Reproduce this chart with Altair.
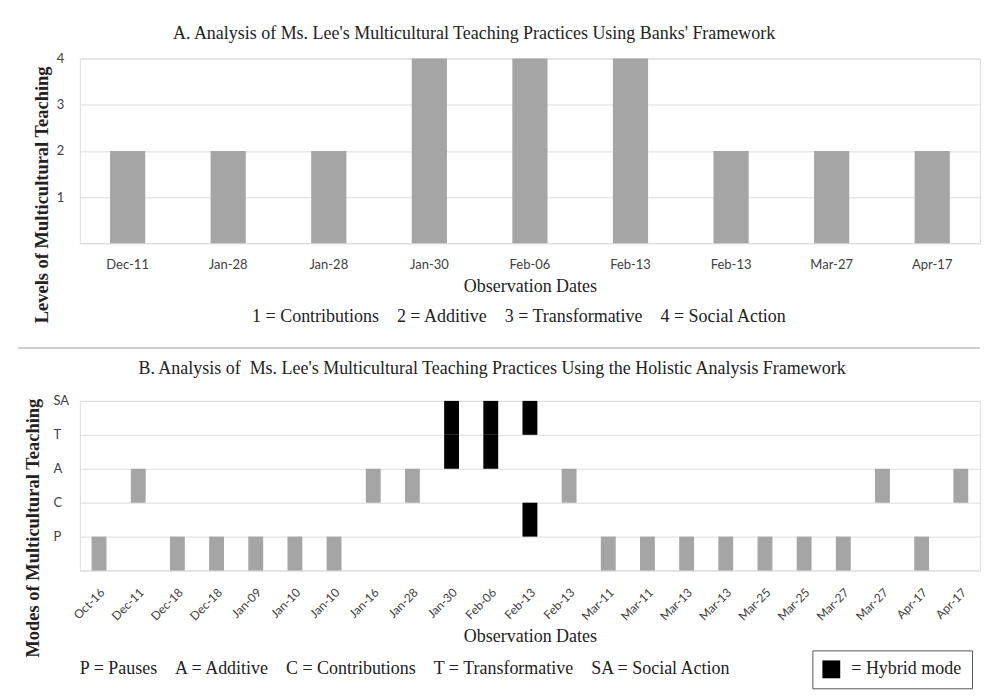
import json
import altair as alt
import pandas as pd

# ---------------- Data ----------------
# Panel A: Banks' framework levels (1 = Contributions ... 4 = Social Action)
a_dates = ["Dec-11", "Jan-28", "Jan-28", "Jan-30", "Feb-06", "Feb-13", "Feb-13", "Mar-27", "Apr-17"]
a_levels = [2, 2, 2, 4, 4, 4, 2, 2, 2]
a_tick_values = [0, 1, 2, 3, 4]

# Panel B: Holistic analysis framework modes per observation
b_dates = ["Oct-16", "Dec-11", "Dec-18", "Dec-18", "Jan-09", "Jan-10", "Jan-10", "Jan-16",
           "Jan-28", "Jan-30", "Feb-06", "Feb-13", "Feb-13", "Mar-11", "Mar-11", "Mar-13",
           "Mar-13", "Mar-25", "Mar-25", "Mar-27", "Mar-27", "Apr-17", "Apr-17"]
b_modes = [["P"], ["A"], ["P"], ["P"], ["P"], ["P"], ["P"], ["A"],
           ["A"], ["T", "SA"], ["T", "SA"], ["C", "SA"], ["A"], ["P"], ["P"], ["P"],
           ["P"], ["P"], ["P"], ["P"], ["A"], ["P"], ["A"]]
mode_order = ["P", "C", "A", "T", "SA"]   # levels 1..5
b_tick_labels = [""] + mode_order

title_a = "A. Analysis of Ms. Lee's Multicultural Teaching Practices Using Banks' Framework"
title_b = "B. Analysis of \u00a0Ms. Lee's Multicultural Teaching Practices Using the Holistic Analysis Framework"
gap = "\u00a0\u00a0\u00a0\u00a0"
key_a = gap.join(["1 = Contributions", "2 = Additive", "3 = Transformative", "4 = Social Action"])
key_b = gap.join(["P = Pauses", "A = Additive", "C = Contributions", "T = Transformative", "SA = Social Action"])

# ---------------- Frames ----------------
dfA = pd.DataFrame({"idx": list(range(len(a_dates))), "date": a_dates, "level": a_levels})

rows = []
for i, (d, ms) in enumerate(zip(b_dates, b_modes)):
    kind = "Hybrid mode" if len(ms) > 1 else "Single mode"
    for m in ms:
        lv = mode_order.index(m) + 1
        rows.append({"idx": i, "date": d, "mode": m, "lo": lv - 1, "hi": lv, "kind": kind})
dfB = pd.DataFrame(rows)

GREY = "#a5a5a5"
GRID = "#dcdcdc"
SERIF = "Liberation Serif"
SANS = "Lato"
LABEL = "#404040"
W = 902

# ---------------- Panel A ----------------
barsA = alt.Chart(dfA).mark_bar(color=GREY).encode(
    x=alt.X("idx:O",
            scale=alt.Scale(paddingInner=0.65, paddingOuter=0.30),
            axis=alt.Axis(title="Observation Dates", labelExpr=json.dumps(a_dates) + "[datum.value]",
                          labelAngle=0, ticks=False, tickSize=0, domain=False, labelPadding=15.5,
                          titlePadding=6, labelFont=SANS, labelFontSize=13, labelColor=LABEL,
                          titleFont=SERIF, titleFontSize=18, titleFontWeight="normal", titleColor="#222")),
    y=alt.Y("level:Q",
            scale=alt.Scale(domain=[0, 4]),
            axis=alt.Axis(title="Levels of Multicultural Teaching", values=a_tick_values,
                          labelExpr="datum.value == 0 ? '' : datum.label",
                          ticks=False, tickSize=0, domain=False, labelPadding=16, grid=True, gridColor=GRID,
                          labelFont=SANS, labelFontSize=13, labelColor=LABEL,
                          titleFont=SERIF, titleFontSize=18.5, titleFontWeight="bold", titleColor="#222",
                          titleX=-38, titleY=136, titleAngle=-90, titleBaseline="middle", titleAlign="center")),
)
keyA = alt.Chart(pd.DataFrame({"t": [key_a]})).mark_text(
    font=SERIF, fontSize=18, align="center", baseline="middle", color="#222"
).encode(text="t:N", x=alt.value(440), y=alt.value(259))
sepA = alt.Chart(pd.DataFrame({"t": [0]})).mark_rule(color="#cfcfcf", strokeWidth=2).encode(
    x=alt.value(-62), x2=alt.value(W), y=alt.value(290))

panelA = alt.layer(barsA, keyA, sepA).properties(
    width=W, height=185,
    title=alt.TitleParams(title_a, font=SERIF, fontSize=18, fontWeight="normal", color="#222",
                          anchor="middle", dx=-56, offset=10))

# ---------------- Panel B ----------------
barsB = alt.Chart(dfB).mark_bar().encode(
    x=alt.X("idx:O",
            scale=alt.Scale(paddingInner=0.62, paddingOuter=0.30),
            axis=alt.Axis(title="Observation Dates", labelExpr=json.dumps(b_dates) + "[datum.value]",
                          labelAngle=-45, ticks=False, tickSize=0, domain=False, labelPadding=16,
                          titlePadding=5, labelFont=SANS, labelFontSize=12, labelColor=LABEL,
                          titleFont=SERIF, titleFontSize=18, titleFontWeight="normal", titleColor="#222")),
    y=alt.Y("lo:Q",
            scale=alt.Scale(domain=[0, 5]),
            axis=alt.Axis(title="Modes of Multicultural Teaching", values=[0, 1, 2, 3, 4, 5],
                          labelExpr=json.dumps(b_tick_labels) + "[datum.value]",
                          ticks=False, tickSize=0, domain=False, labelPadding=27, labelAlign="left",
                          grid=True, gridColor=GRID,
                          labelFont=SANS, labelFontSize=13, labelColor=LABEL,
                          titleFont=SERIF, titleFontSize=18.5, titleFontWeight="bold", titleColor="#222",
                          titleX=-47, titleY=127, titleAngle=-90, titleBaseline="middle", titleAlign="center")),
    y2="hi:Q",
    color=alt.Color("kind:N",
                    scale=alt.Scale(domain=["Hybrid mode", "Single mode"], range=["#000000", GREY]),
                    legend=alt.Legend(values=["Hybrid mode"], title=None, orient="none",
                                      legendX=734, legendY=250, strokeColor="#555555", padding=10,
                                      symbolType="square", symbolSize=320, symbolStrokeWidth=0,
                                      labelExpr="'= ' + datum.label", labelFont=SERIF, labelFontSize=18,
                                      labelColor="#222", labelOffset=11)),
)
keyB = alt.Chart(pd.DataFrame({"t": [key_b]})).mark_text(
    font=SERIF, fontSize=18, align="left", baseline="middle", color="#222"
).encode(text="t:N", x=alt.value(0), y=alt.value(269))

panelB = alt.layer(barsB, keyB).properties(
    width=W, height=170,
    title=alt.TitleParams(title_b, font=SERIF, fontSize=18, fontWeight="normal", color="#222",
                          anchor="middle", dx=-38, offset=16.5))

chart = alt.vconcat(panelA, panelB, spacing=10).resolve_legend(color="independent").properties(
    padding={"left": 8, "top": 15, "right": 0, "bottom": 0}
).configure_view(stroke=None).configure(background="white")

chart.save("out.html", embed_options={"renderer": "svg", "actions": False})
